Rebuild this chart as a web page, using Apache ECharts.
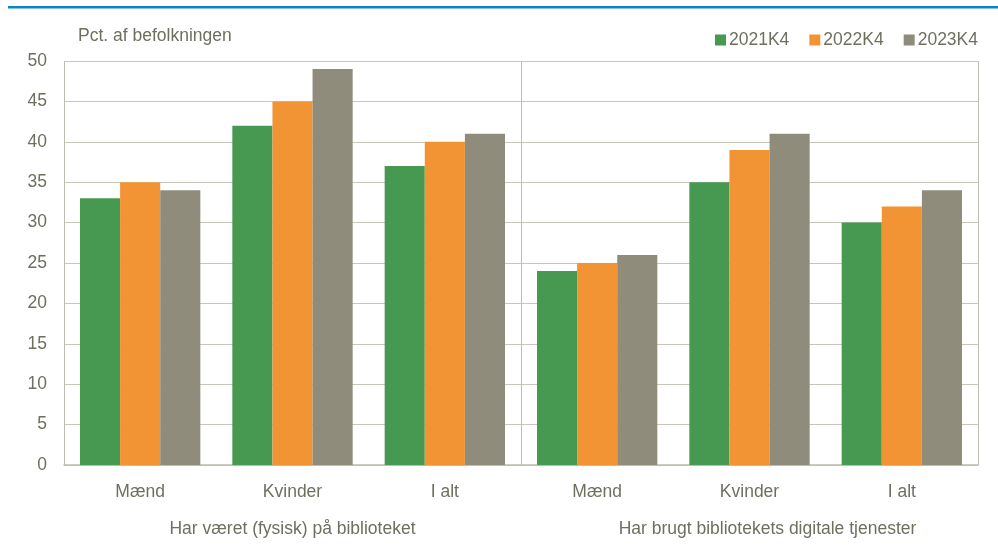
<!DOCTYPE html>
<html>
<head>
<meta charset="utf-8">
<script src="https://cdn.jsdelivr.net/npm/echarts@6/dist/echarts.min.js"></script>
<style>
  html, body { margin: 0; padding: 0; background: #fff; }
  #chart { width: 998px; height: 545px; }
</style>
</head>
<body>
<div id="chart"></div>
<script>
// kategorier og grupper
var categories = ['Mænd', 'Kvinder', 'I alt', 'Mænd', 'Kvinder', 'I alt'];
var groups = ['Har været (fysisk) på biblioteket', 'Har brugt bibliotekets digitale tjenester'];
var seriesNames = ['2021K4', '2022K4', '2023K4'];

// pct. af befolkningen
var v2021 = [33, 42, 37, 24, 35, 30];
var v2022 = [35, 45, 40, 25, 39, 32];
var v2023 = [34, 49, 41, 26, 41, 34];

var colors = ['#479951', '#f29433', '#8f8c7c'];
var txt = '#6f6f60';
var font = 'Liberation Sans, Arial, sans-serif';

var myChart = echarts.init(document.getElementById('chart'));

var option = {
    animation: false,
    color: colors,
    textStyle: { fontFamily: font },
    title: {
        text: 'Pct. af befolkningen',
        left: 73,
        top: 22,
        textStyle: { fontSize: 17.5, fontWeight: 'normal', color: txt, fontFamily: font }
    },
    legend: {
        data: seriesNames,
        right: 15,
        top: 26,
        itemWidth: 11,
        itemHeight: 11,
        itemGap: 20,
        icon: 'rect',
        textStyle: { fontSize: 17.5, color: txt, fontFamily: font, padding: [0, 0, 0, -2] }
    },
    graphic: [{
        type: 'rect',
        shape: { x: 8, y: 6, width: 990, height: 2.5 },
        style: { fill: '#0a86c8' }
    }],
    grid: { left: 64, right: 20, top: 61, bottom: 80 },
    xAxis: [{
        type: 'category',
        data: categories,
        axisLine: { lineStyle: { color: '#bdbdaf', width: 1.5 } },
        axisTick: { show: false },
        axisLabel: { fontSize: 17.5, color: txt, margin: 18, fontFamily: font }
    }, {
        type: 'category',
        data: groups,
        position: 'bottom',
        axisLine: { show: false },
        axisTick: { show: false },
        splitLine: { show: true, lineStyle: { color: '#bdbdaf', width: 1 } },
        axisLabel: {
            fontSize: 17.5, color: txt, margin: 55, fontFamily: font,
            formatter: function (v, i) { return i === 1 ? '{s|' + v + '}' : v; },
            rich: { s: { fontSize: 17.5, color: txt, fontFamily: font, padding: [0, 0, 0, 36] } }
        }
    }],
    yAxis: {
        type: 'value',
        min: 0,
        max: 50,
        interval: 5,
        axisLine: { show: false },
        axisTick: { show: false },
        splitLine: { lineStyle: { color: '#c6c6ba', width: 1 } },
        axisLabel: { fontSize: 17.5, color: txt, margin: 17, fontFamily: font }
    },
    series: [
        { name: seriesNames[0], type: 'bar', data: v2021, barGap: '0%', barCategoryGap: '21%' },
        { name: seriesNames[1], type: 'bar', data: v2022, barGap: '0%', barCategoryGap: '21%' },
        { name: seriesNames[2], type: 'bar', data: v2023, barGap: '0%', barCategoryGap: '21%' }
    ]
};

myChart.setOption(option);
window.addEventListener('resize', function () {
    myChart.resize();
});
</script>
</body>
</html>
